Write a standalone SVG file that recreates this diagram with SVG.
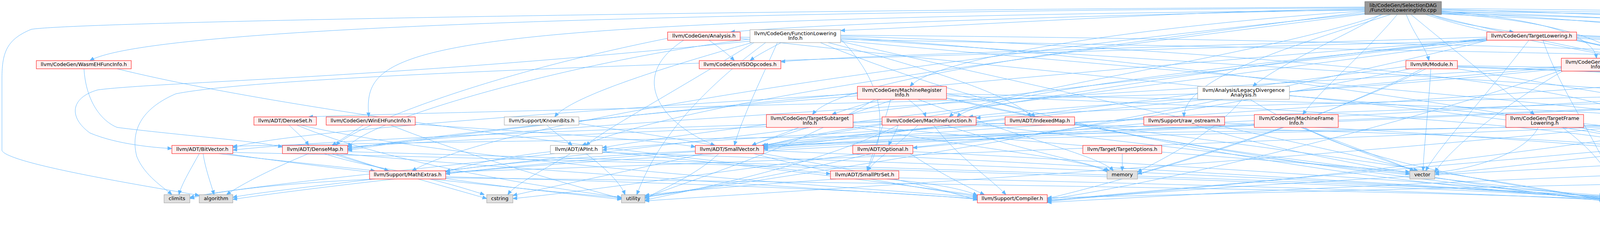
<svg xmlns="http://www.w3.org/2000/svg" width="6183" height="637" viewBox="0 0 6183 637">
<style>
.e{fill:none;stroke:#63b8ff;stroke-width:1;marker-end:url(#ah)}
.n rect{fill:#fff0f0;stroke:#ff0000;stroke-width:1}
.w rect{fill:#ffffff;stroke:#999999;stroke-width:1}
.s rect{fill:#e0e0e0;stroke:#999999;stroke-width:1}
.root rect{fill:#999999;stroke:#666666;stroke-width:1}
text{font-family:"DejaVu Sans",sans-serif;font-size:13px;text-anchor:middle;fill:#000000}
</style>
<defs>
<marker id="ah" markerUnits="userSpaceOnUse" markerWidth="11" markerHeight="11" viewBox="0 0 10 10" refX="10" refY="5" orient="auto"><path d="M0,1 L10,5 L0,9 z" fill="#63b8ff" stroke="#63b8ff"/></marker>
</defs>
<rect width="6183" height="637" fill="#ffffff"/>
<g id="edges">
<path class="e" d="M3494,22 C3000,30 2600,60 2152,78"/>
<path class="e" d="M3494,24 C2800,40 2100,60 1870,82"/>
<path class="e" d="M3665,37 C3700,55 3800,70 3875,82"/>
<path class="e" d="M3600,37 C3620,90 3650,120 3658,155"/>
<path class="e" d="M3612,37 C3700,110 3850,230 3928,293"/>
<path class="e" d="M3690,28 C3950,50 4080,90 4087,149"/>
<path class="e" d="M3535,37 C3450,90 3280,160 3207,221"/>
<path class="e" d="M3577,37 C3500,130 3380,230 3335,293"/>
<path class="e" d="M3690,24 C4300,40 4800,70 5035,86"/>
<path class="e" d="M3690,22 C4800,30 5700,60 5998,82"/>
<path class="e" d="M3690,30 C4400,50 4850,90 4912,155"/>
<path class="e" d="M3690,32 C4400,60 4750,150 4855,227"/>
<path class="e" d="M3690,34 C4700,60 5260,90 5205,227"/>
<path class="e" d="M3690,36 C4900,90 5620,150 5612,299"/>
<path class="e" d="M3690,30 C5000,40 6000,100 6051,372"/>
<path class="e" d="M3650,37 C3900,120 4300,150 4340,221"/>
<path class="e" d="M3690,34 C4100,60 4240,150 4233,293"/>
<path class="e" d="M3494,28 C3000,60 2400,140 2330,221"/>
<path class="e" d="M3494,26 C1000,50 930,120 944,299"/>
<path class="e" d="M3494,20 C2000,30 400,60 230,155"/>
<path class="e" d="M3494,30 C2800,120 2150,200 2080,293"/>
<path class="e" d="M3540,37 C3200,150 2500,240 2430,299"/>
<path class="e" d="M3660,37 C4300,200 5200,300 5240,437"/>
<path class="e" d="M3494,34 C2400,150 1300,300 1055,437"/>
<path class="e" d="M3560,37 C3300,120 3030,200 3031,299"/>
<path class="e" d="M3494,36 C2600,150 1800,250 1490,372"/>
<path class="e" d="M3494,18 C2000,25 200,55 80,75 C20,100 5,130 5,200 L5,385 C20,420 400,480 510,500"/>
<path class="e" d="M3690,26 C5000,40 6000,60 6140,72 C6170,90 6178,120 6178,200 L6178,370 C6175,400 6100,410 5900,425 C5700,440 5500,480 5440,504"/>
<path class="e" d="M1815,103 C1840,120 1865,140 1880,155"/>
<path class="e" d="M1750,103 C1600,200 1700,320 1830,372"/>
<path class="e" d="M1895,98 C2800,200 4000,300 4200,365"/>
<path class="e" d="M1895,95 C3000,120 4500,140 4842,163"/>
<path class="e" d="M1709,98 C1200,200 900,330 860,372"/>
<path class="e" d="M2000,109 C1970,125 1940,140 1920,155"/>
<path class="e" d="M1990,109 C1950,200 1900,300 1880,372"/>
<path class="e" d="M1920,100 C1500,150 950,300 890,376"/>
<path class="e" d="M1920,105 C1000,200 400,210 250,230 C180,250 175,300 230,340 C300,370 400,378 440,380"/>
<path class="e" d="M2120,109 C2400,180 2600,250 2640,299"/>
<path class="e" d="M1930,109 C1700,250 1550,330 1500,372"/>
<path class="e" d="M1925,109 C1600,200 1450,260 1420,299"/>
<path class="e" d="M2152,100 C2300,250 2250,380 2220,437"/>
<path class="e" d="M2152,95 C3000,150 4000,300 4210,365"/>
<path class="e" d="M2152,92 C3000,120 4000,200 4170,293"/>
<path class="e" d="M2152,90 C3500,100 4600,140 4860,155"/>
<path class="e" d="M2152,104 C3200,200 4500,300 4800,372"/>
<path class="e" d="M2152,98 C3300,180 4700,250 4900,299"/>
<path class="e" d="M1960,109 C1700,300 1650,450 1630,498"/>
<path class="e" d="M2152,106 C3000,300 3500,400 3630,437"/>
<path class="e" d="M2100,109 C2800,400 3800,490 4106,508"/>
<path class="e" d="M3914,103 C3800,250 3680,380 3650,437"/>
<path class="e" d="M3806,95 C3000,120 2200,140 1999,158"/>
<path class="e" d="M3806,98 C3000,180 2200,330 1950,372"/>
<path class="e" d="M3806,100 C2500,200 1200,330 890,385"/>
<path class="e" d="M3806,100 C2800,220 1800,330 1542,378"/>
<path class="e" d="M4036,95 C4600,120 5100,180 5180,227"/>
<path class="e" d="M4036,98 C4900,140 5550,220 5590,299"/>
<path class="e" d="M4036,92 C4500,110 4800,180 4840,227"/>
<path class="e" d="M4036,90 C4500,110 4850,130 4880,155"/>
<path class="e" d="M4036,100 C4400,200 4750,300 4800,372"/>
<path class="e" d="M3806,102 C3000,180 2500,250 2450,299"/>
<path class="e" d="M4036,103 C4800,250 5150,380 5220,437"/>
<path class="e" d="M3950,103 C4000,250 4120,400 4135,498"/>
<path class="e" d="M3806,104 C2000,150 700,190 450,240 C380,270 330,320 350,400 C370,450 420,480 440,498"/>
<path class="e" d="M3806,104 C2000,350 700,480 596,505"/>
<path class="e" d="M4036,104 C5000,300 5350,420 5395,498"/>
<path class="e" d="M3806,104 C2800,350 1800,480 1651,505"/>
<path class="e" d="M5090,103 C5040,125 4990,140 4955,155"/>
<path class="e" d="M5110,103 C5050,170 4950,210 4910,227"/>
<path class="e" d="M5120,103 C5080,180 5000,250 4945,299"/>
<path class="e" d="M5196,95 C5500,150 5600,220 5600,299"/>
<path class="e" d="M5196,90 C5600,150 5900,180 6030,250 C6110,300 6160,350 6150,380 C6130,420 6000,440 5700,470 C5300,500 4500,510 4176,514"/>
<path class="e" d="M215,176 C220,260 260,310 300,326 C450,345 650,360 723,376"/>
<path class="e" d="M300,176 C800,300 1900,420 2126,445"/>
<path class="e" d="M3663,176 C3655,300 3645,380 3643,437"/>
<path class="e" d="M3731,170 C4300,190 4700,210 4820,227"/>
<path class="e" d="M3731,168 C4500,180 5000,200 5140,227"/>
<path class="e" d="M3731,172 C4800,200 5800,300 6000,372"/>
<path class="e" d="M3731,176 C4500,300 5300,450 5381,505"/>
<path class="e" d="M3650,176 C3400,300 3000,420 2912,445"/>
<path class="e" d="M3640,176 C3300,350 2800,480 2681,508"/>
<path class="e" d="M3599,170 C3000,250 2200,350 1955,380"/>
<path class="e" d="M3610,176 C3200,260 2600,360 2337,378"/>
<path class="e" d="M4150,182 C4230,195 4280,208 4305,221"/>
<path class="e" d="M4184,170 C4500,220 4520,320 4330,365"/>
<path class="e" d="M3997,175 C3500,230 2700,270 2480,299"/>
<path class="e" d="M3997,170 C3000,230 1200,330 890,380"/>
<path class="e" d="M3997,172 C3200,240 2200,340 1955,376"/>
<path class="e" d="M4184,178 C4450,300 4450,450 4176,512"/>
<path class="e" d="M4000,182 C3800,300 3700,400 3673,440"/>
<path class="e" d="M4184,175 C4800,260 5150,380 5230,437"/>
<path class="e" d="M3997,180 C3500,350 2900,480 2681,510"/>
<path class="e" d="M4915,176 C4905,195 4892,212 4885,227"/>
<path class="e" d="M4930,176 C4960,220 4950,270 4935,299"/>
<path class="e" d="M4935,176 C5050,250 5050,340 4888,376"/>
<path class="e" d="M5003,170 C5400,200 5580,250 5595,299"/>
<path class="e" d="M4842,170 C4500,300 4400,470 4176,506"/>
<path class="e" d="M4842,168 C3800,250 2300,340 1955,373"/>
<path class="e" d="M4960,176 C5100,260 5250,380 5270,437"/>
<path class="e" d="M2255,254 C2200,270 2150,285 2130,293"/>
<path class="e" d="M2325,254 C2345,270 2365,285 2370,299"/>
<path class="e" d="M2423,240 C2550,260 2630,280 2650,299"/>
<path class="e" d="M2195,240 C1500,280 700,340 596,378"/>
<path class="e" d="M2195,245 C1500,300 1000,360 890,382"/>
<path class="e" d="M2423,245 C3500,280 4000,330 4190,365"/>
<path class="e" d="M2423,240 C3400,260 4000,280 4140,293"/>
<path class="e" d="M2290,254 C2100,320 1950,360 1925,372"/>
<path class="e" d="M2280,254 C2260,330 2230,400 2220,437"/>
<path class="e" d="M2350,254 C2600,350 2820,400 2850,437"/>
<path class="e" d="M2240,254 C2000,400 1700,480 1651,508"/>
<path class="e" d="M2423,250 C3200,420 3900,490 4106,510"/>
<path class="e" d="M2423,252 C3000,380 3500,430 3609,445"/>
<path class="e" d="M3066,240 C2000,270 1000,290 790,299"/>
<path class="e" d="M3301,245 C4000,300 4800,400 5013,445"/>
<path class="e" d="M3180,254 C3100,350 2950,420 2912,440"/>
<path class="e" d="M3200,254 C3350,350 3580,420 3620,437"/>
<path class="e" d="M4340,254 C4310,270 4280,285 4260,293"/>
<path class="e" d="M4370,254 C4370,300 4340,340 4310,365"/>
<path class="e" d="M4269,245 C3500,260 2700,280 2499,302"/>
<path class="e" d="M4380,254 C4450,350 4420,460 4176,505"/>
<path class="e" d="M4410,254 C4800,330 5150,400 5230,437"/>
<path class="e" d="M4269,248 C3500,300 2300,350 1955,376"/>
<path class="e" d="M4880,248 C4900,265 4915,285 4920,299"/>
<path class="e" d="M4910,248 C4990,300 4990,350 4888,378"/>
<path class="e" d="M4939,245 C5300,260 5500,280 5560,299"/>
<path class="e" d="M4845,248 C4600,350 4400,470 4176,506"/>
<path class="e" d="M4939,248 C5200,330 5380,420 5400,498"/>
<path class="e" d="M4799,245 C4000,400 3000,490 2681,512"/>
<path class="e" d="M5195,248 C5200,330 5240,400 5255,437"/>
<path class="e" d="M5274,243 C5400,260 5500,285 5540,299"/>
<path class="e" d="M5150,248 C5100,300 5000,360 4888,385"/>
<path class="e" d="M5115,240 C3500,300 1500,400 1141,445"/>
<path class="e" d="M5115,238 C4000,280 2400,350 1955,382"/>
<path class="e" d="M5230,248 C5400,330 5420,420 5415,498"/>
<path class="e" d="M5160,248 C5050,380 4600,480 4176,514"/>
<path class="e" d="M5115,236 C3800,270 2000,330 1542,384"/>
<path class="e" d="M740,320 C760,340 780,355 790,372"/>
<path class="e" d="M770,320 C1200,420 2200,480 2502,505"/>
<path class="e" d="M760,320 C1000,420 1400,480 1591,505"/>
<path class="e" d="M930,320 C900,340 870,360 850,372"/>
<path class="e" d="M1063,318 C1400,340 1700,360 1780,376"/>
<path class="e" d="M1000,320 C1200,400 1450,470 1591,508"/>
<path class="e" d="M1400,320 C1420,340 1450,360 1465,372"/>
<path class="e" d="M1482,316 C1900,380 2300,450 2502,512"/>
<path class="e" d="M2045,326 C2000,345 1950,360 1925,372"/>
<path class="e" d="M2184,320 C2800,380 3400,420 3609,440"/>
<path class="e" d="M2184,324 C2500,380 2800,410 2834,440"/>
<path class="e" d="M2390,320 C2450,400 2540,460 2575,498"/>
<path class="e" d="M2258,316 C2100,340 2000,360 1955,375"/>
<path class="e" d="M2300,320 C2290,345 2280,360 2275,372"/>
<path class="e" d="M2499,315 C3300,330 4000,350 4178,378"/>
<path class="e" d="M2258,312 C1800,330 1100,360 890,376"/>
<path class="e" d="M2258,310 C1500,330 800,360 596,384"/>
<path class="e" d="M2499,318 C3200,400 3800,470 4106,506"/>
<path class="e" d="M2420,320 C2600,380 2800,420 2840,437"/>
<path class="e" d="M2300,320 C2100,420 1800,480 1651,512"/>
<path class="e" d="M2350,320 C2300,370 2240,410 2220,437"/>
<path class="e" d="M2573,315 C2300,335 2100,350 1955,372"/>
<path class="e" d="M2751,316 C3300,380 3900,470 4106,512"/>
<path class="e" d="M3060,320 C3300,400 3800,480 4106,514"/>
<path class="e" d="M3135,315 C4000,350 5000,450 5381,510"/>
<path class="e" d="M2928,316 C2200,380 1600,480 1313,508"/>
<path class="e" d="M3211,320 C2700,340 2200,360 1955,378"/>
<path class="e" d="M3330,326 C3450,370 3580,420 3620,437"/>
<path class="e" d="M3340,326 C3500,420 3900,480 4106,508"/>
<path class="e" d="M3938,326 C3900,400 3750,435 3673,441"/>
<path class="e" d="M4000,326 C4100,400 4130,460 4135,498"/>
<path class="e" d="M4245,326 C4260,340 4270,355 4275,365"/>
<path class="e" d="M4210,326 C4150,380 4140,450 4140,498"/>
<path class="e" d="M4127,320 C3200,340 2300,360 1955,372"/>
<path class="e" d="M4127,322 C3000,340 1200,360 596,374"/>
<path class="e" d="M4127,324 C3000,370 1800,420 1141,440"/>
<path class="e" d="M4127,326 C3200,420 2000,490 1651,514"/>
<path class="e" d="M4928,320 C4920,420 4700,480 4176,514"/>
<path class="e" d="M4989,318 C5300,380 5380,450 5395,498"/>
<path class="e" d="M4869,316 C4000,400 3000,480 2681,514"/>
<path class="e" d="M5520,318 C5300,340 5000,360 4888,372"/>
<path class="e" d="M5610,320 C5620,400 5550,480 5440,506"/>
<path class="e" d="M5598,320 C5400,420 4800,480 4176,508"/>
<path class="e" d="M520,393 C525,430 540,470 548,498"/>
<path class="e" d="M510,393 C490,430 465,470 458,498"/>
<path class="e" d="M560,393 C700,410 900,430 960,437"/>
<path class="e" d="M596,390 C2000,420 3800,480 4106,508"/>
<path class="e" d="M580,393 C900,440 1400,490 1591,506"/>
<path class="e" d="M790,393 C700,430 620,470 580,498"/>
<path class="e" d="M850,393 C900,410 960,425 995,437"/>
<path class="e" d="M830,393 C1000,450 1400,490 1591,510"/>
<path class="e" d="M890,388 C2000,420 3700,470 4106,504"/>
<path class="e" d="M870,393 C1400,440 2200,490 2502,508"/>
<path class="e" d="M860,393 C1000,440 1150,480 1246,508"/>
<path class="e" d="M1460,393 C1400,430 1320,470 1300,498"/>
<path class="e" d="M1409,388 C1300,400 1200,420 1141,440"/>
<path class="e" d="M1542,390 C2500,420 3700,470 4106,510"/>
<path class="e" d="M1420,393 C1000,440 600,480 486,505"/>
<path class="e" d="M1500,393 C1550,430 1590,470 1600,498"/>
<path class="e" d="M1542,388 C1900,420 2300,470 2502,500"/>
<path class="e" d="M1840,393 C1780,450 1700,480 1651,508"/>
<path class="e" d="M1780,388 C1300,420 800,480 596,510"/>
<path class="e" d="M1800,393 C1600,440 1400,480 1313,500"/>
<path class="e" d="M1930,393 C2100,440 2350,480 2502,503"/>
<path class="e" d="M1780,386 C1500,400 1250,420 1141,438"/>
<path class="e" d="M1955,385 C2800,420 3700,480 4106,502"/>
<path class="e" d="M2330,393 C2400,440 2480,480 2520,498"/>
<path class="e" d="M2230,393 C2000,450 1750,490 1651,503"/>
<path class="e" d="M2337,388 C3000,420 3700,470 4106,500"/>
<path class="e" d="M2873,393 L2873,437"/>
<path class="e" d="M4230,398 C4200,440 4160,480 4150,498"/>
<path class="e" d="M4178,392 C3900,420 3750,440 3673,445"/>
<path class="e" d="M4800,393 C4600,460 4400,500 4176,510"/>
<path class="e" d="M4773,388 C4000,430 3000,480 2681,516"/>
<path class="e" d="M4888,385 C5000,400 5150,420 5200,437"/>
<path class="e" d="M6040,393 C5900,470 5600,500 5440,512"/>
<path class="e" d="M5967,386 C5000,410 3500,470 2681,518"/>
<path class="e" d="M1100,458 C1150,470 1200,485 1240,498"/>
<path class="e" d="M960,458 C700,470 550,490 486,508"/>
<path class="e" d="M1141,455 C2500,470 3700,490 4106,510"/>
<path class="e" d="M1141,452 C1800,470 2300,490 2502,510"/>
<path class="e" d="M2270,458 C2400,470 2470,485 2502,500"/>
<path class="e" d="M2140,458 C1900,475 1720,490 1651,500"/>
<path class="e" d="M2301,455 C3000,470 3700,490 4106,512"/>
<path class="e" d="M5100,458 C5250,470 5350,490 5381,500"/>
<path class="e" d="M5310,458 C5350,470 5380,485 5390,498"/>
<path class="e" d="M5183,452 C4000,470 3000,500 2681,506"/>
</g>
<g id="R" class="root"><rect x="3494" y="4" width="196" height="33"/><text x="3592" y="18">lib/CodeGen/SelectionDAG</text><text x="3592" y="30">/FunctionLoweringInfo.cpp</text></g>
<g id="AN" class="n"><rect x="1709" y="82" width="186" height="21"/><text x="1802" y="96">llvm/CodeGen/Analysis.h</text></g>
<g id="FLI" class="w"><rect x="1920" y="76" width="232" height="33"/><text x="2036" y="89.5">llvm/CodeGen/FunctionLowering</text><text x="2036" y="101.5">Info.h</text></g>
<g id="TL" class="n"><rect x="3806" y="82" width="230" height="21"/><text x="3921" y="96">llvm/CodeGen/TargetLowering.h</text></g>
<g id="II" class="n"><rect x="5035" y="82" width="161" height="21"/><text x="5115.5" y="96">llvm/IR/IntrinsicInst.h</text></g>
<g id="DBG" class="w"><rect x="5974" y="82" width="163" height="21"/><text x="6055.5" y="96">llvm/Support/Debug.h</text></g>
<g id="WASM" class="n"><rect x="93" y="155" width="243" height="21"/><text x="214.5" y="169">llvm/CodeGen/WasmEHFuncInfo.h</text></g>
<g id="ISD" class="n"><rect x="1790" y="155" width="209" height="21"/><text x="1894.5" y="169">llvm/CodeGen/ISDOpcodes.h</text></g>
<g id="MOD" class="n"><rect x="3599" y="155" width="132" height="21"/><text x="3665" y="169">llvm/IR/Module.h</text></g>
<g id="TII" class="n"><rect x="3997" y="149" width="187" height="33"/><text x="4090.5" y="162.5">llvm/CodeGen/TargetInstr</text><text x="4090.5" y="174.5">Info.h</text></g>
<g id="INS" class="n"><rect x="4842" y="155" width="161" height="21"/><text x="4922.5" y="169">llvm/IR/Instructions.h</text></g>
<g id="MRI" class="n"><rect x="2195" y="221" width="228" height="33"/><text x="2309" y="234.5">llvm/CodeGen/MachineRegister</text><text x="2309" y="246.5">Info.h</text></g>
<g id="LDA" class="w"><rect x="3066" y="221" width="235" height="33"/><text x="3183.5" y="234.5">llvm/Analysis/LegacyDivergence</text><text x="3183.5" y="246.5">Analysis.h</text></g>
<g id="MIB" class="n"><rect x="4269" y="221" width="203" height="33"/><text x="4370.5" y="234.5">llvm/CodeGen/MachineInstr</text><text x="4370.5" y="246.5">Builder.h</text></g>
<g id="FN" class="n"><rect x="4799" y="227" width="140" height="21"/><text x="4869" y="241">llvm/IR/Function.h</text></g>
<g id="DL" class="n"><rect x="5115" y="227" width="159" height="21"/><text x="5194.5" y="241">llvm/IR/DataLayout.h</text></g>
<g id="DS" class="n"><rect x="650" y="299" width="160" height="21"/><text x="730" y="313">llvm/ADT/DenseSet.h</text></g>
<g id="WIN" class="n"><rect x="835" y="299" width="228" height="21"/><text x="949" y="313">llvm/CodeGen/WinEHFuncInfo.h</text></g>
<g id="KB" class="w"><rect x="1291" y="299" width="191" height="21"/><text x="1386.5" y="313">llvm/Support/KnownBits.h</text></g>
<g id="TSI" class="n"><rect x="1962" y="293" width="222" height="33"/><text x="2073" y="306.5">llvm/CodeGen/TargetSubtarget</text><text x="2073" y="318.5">Info.h</text></g>
<g id="MF" class="n"><rect x="2258" y="299" width="241" height="21"/><text x="2378.5" y="313">llvm/CodeGen/MachineFunction.h</text></g>
<g id="IM" class="n"><rect x="2573" y="299" width="178" height="21"/><text x="2662" y="313">llvm/ADT/IndexedMap.h</text></g>
<g id="RO" class="n"><rect x="2928" y="299" width="207" height="21"/><text x="3031.5" y="313">llvm/Support/raw_ostream.h</text></g>
<g id="MFI" class="n"><rect x="3211" y="293" width="215" height="33"/><text x="3318.5" y="306.5">llvm/CodeGen/MachineFrame</text><text x="3318.5" y="318.5">Info.h</text></g>
<g id="TFL" class="n"><rect x="3855" y="293" width="199" height="33"/><text x="3954.5" y="306.5">llvm/CodeGen/TargetFrame</text><text x="3954.5" y="318.5">Lowering.h</text></g>
<g id="TRI" class="n"><rect x="4127" y="293" width="212" height="33"/><text x="4233" y="306.5">llvm/CodeGen/TargetRegister</text><text x="4233" y="318.5">Info.h</text></g>
<g id="VAL" class="n"><rect x="4869" y="299" width="120" height="21"/><text x="4929" y="313">llvm/IR/Value.h</text></g>
<g id="DT" class="n"><rect x="5520" y="299" width="172" height="21"/><text x="5606" y="313">llvm/IR/DerivedTypes.h</text></g>
<g id="BV" class="n"><rect x="440" y="372" width="156" height="21"/><text x="518" y="386">llvm/ADT/BitVector.h</text></g>
<g id="DM" class="n"><rect x="723" y="372" width="167" height="21"/><text x="806.5" y="386">llvm/ADT/DenseMap.h</text></g>
<g id="API" class="w"><rect x="1409" y="372" width="133" height="21"/><text x="1475.5" y="386">llvm/ADT/APInt.h</text></g>
<g id="SV" class="n"><rect x="1780" y="372" width="175" height="21"/><text x="1867.5" y="386">llvm/ADT/SmallVector.h</text></g>
<g id="OPT" class="n"><rect x="2183" y="372" width="154" height="21"/><text x="2260" y="386">llvm/ADT/Optional.h</text></g>
<g id="TO" class="n"><rect x="2772" y="372" width="202" height="21"/><text x="2873" y="386">llvm/Target/TargetOptions.h</text></g>
<g id="MBB" class="n"><rect x="4178" y="365" width="209" height="33"/><text x="4282.5" y="378.5">llvm/CodeGen/MachineBasic</text><text x="4282.5" y="390.5">Block.h</text></g>
<g id="TY" class="n"><rect x="4773" y="372" width="115" height="21"/><text x="4830.5" y="386">llvm/IR/Type.h</text></g>
<g id="CTX" class="n"><rect x="5967" y="372" width="170" height="21"/><text x="6052" y="386">llvm/IR/LLVMContext.h</text></g>
<g id="ME" class="n"><rect x="946" y="437" width="195" height="21"/><text x="1043.5" y="451">llvm/Support/MathExtras.h</text></g>
<g id="SPS" class="n"><rect x="2126" y="437" width="175" height="21"/><text x="2213.5" y="451">llvm/ADT/SmallPtrSet.h</text></g>
<g id="MEM" class="s"><rect x="2834" y="437" width="78" height="21"/><text x="2873" y="451">memory</text></g>
<g id="VEC" class="s"><rect x="3609" y="437" width="64" height="21"/><text x="3641" y="451">vector</text></g>
<g id="PASS" class="n"><rect x="5013" y="437" width="96" height="21"/><text x="5061" y="451">llvm/Pass.h</text></g>
<g id="EH" class="w"><rect x="5183" y="437" width="212" height="21"/><text x="5289" y="451">llvm/Support/ErrorHandling.h</text></g>
<g id="CLIM" class="s"><rect x="420" y="498" width="66" height="21"/><text x="453" y="512">climits</text></g>
<g id="ALG" class="s"><rect x="510" y="498" width="86" height="21"/><text x="553" y="512">algorithm</text></g>
<g id="CSTR" class="s"><rect x="1246" y="498" width="67" height="21"/><text x="1279.5" y="512">cstring</text></g>
<g id="UTIL" class="s"><rect x="1591" y="498" width="60" height="21"/><text x="1621" y="512">utility</text></g>
<g id="COMP" class="n"><rect x="2502" y="498" width="179" height="21"/><text x="2591.5" y="512">llvm/Support/Compiler.h</text></g>
<g id="CASS" class="s"><rect x="4106" y="498" width="70" height="21"/><text x="4141" y="512">cassert</text></g>
<g id="STR" class="s"><rect x="5381" y="498" width="59" height="21"/><text x="5410.5" y="512">string</text></g>
</svg>
